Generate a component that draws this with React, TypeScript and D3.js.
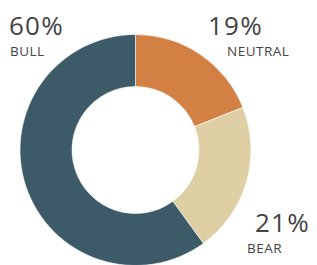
import React, { useEffect, useRef } from 'react';
import * as d3 from 'd3';

const labels = ['NEUTRAL', 'BEAR', 'BULL'];
const values = [19, 21, 60];
const colors = ['#D28044', '#DFCFA5', '#3D5A69'];
// label anchor points (left x, baseline of percent)
const labelPos = [
  { x: 208, y: 35, dx: 19 },
  { x: 255, y: 232, dx: -8 },
  { x: 9, y: 35, dx: 1 },
];

const App = () => {
  const ref = useRef<SVGSVGElement>(null);

  useEffect(() => {
    const svg = d3.select(ref.current);
    svg.selectAll('*').remove();

    const cx = 135.5;
    const cy = 150;
    const outer = 115.5;
    const inner = 63.5;

    const pie = d3.pie<number>().sort(null).value(d => d);
    const arc = d3.arc<d3.PieArcDatum<number>>().innerRadius(inner).outerRadius(outer);

    const g = svg.append('g').attr('transform', `translate(${cx},${cy})`);
    g.selectAll('path')
      .data(pie(values))
      .enter()
      .append('path')
      .attr('d', arc)
      .attr('fill', (d, i) => colors[i])
      .attr('stroke', '#fff')
      .attr('stroke-width', 0.6);

    const txt = svg.append('g').attr('font-family', '"Open Sans", sans-serif').attr('fill', '#444');
    labels.forEach((l, i) => {
      const p = labelPos[i];
      txt.append('text')
        .attr('x', p.x)
        .attr('y', p.y)
        .attr('font-size', 26)
        .attr('letter-spacing', 1.2)
        .text(`${values[i]}%`);
      txt.append('text')
        .attr('x', p.x + p.dx)
        .attr('y', p.y + 21)
        .attr('font-size', 13.5)
        .attr('letter-spacing', 0.5)
        .text(l);
    });
  }, []);

  return (
    <svg
      ref={ref}
      width={317}
      height={265}
      style={{ position: 'absolute', left: 0, top: 0, background: '#fff' }}
    />
  );
};

export default App;
